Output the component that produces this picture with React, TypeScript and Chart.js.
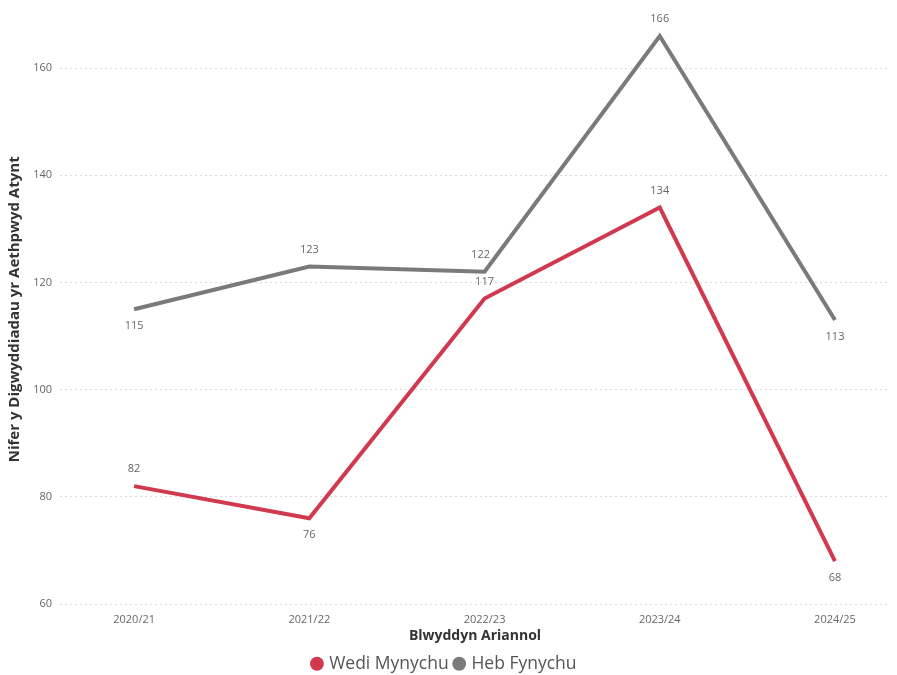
import React, { useEffect, useRef } from "react";
import { Chart, registerables } from "chart.js";
Chart.register(...registerables);

const categories = ["2020/21", "2021/22", "2022/23", "2023/24", "2024/25"];
const wediMynychu = [82, 76, 117, 134, 68];
const hebFynychu = [115, 123, 122, 166, 113];
const yTicks = [60, 80, 100, 120, 140, 160];
// label placement: 1 = above, -1 = below
const wediPos = [1, -1, 1, 1, -1];
const hebPos = [-1, 1, 1, 1, -1];

const FONT = "'Open Sans', 'Noto Sans', sans-serif";

const labelPlugin = {
  id: "pointLabels",
  afterDatasetsDraw(chart: any) {
    const ctx = chart.ctx;
    ctx.save();
    ctx.font = `11px ${FONT}`;
    ctx.fillStyle = "#666666";
    ctx.textAlign = "center";
    ctx.textBaseline = "middle";
    chart.data.datasets.forEach((ds: any, di: number) => {
      const meta = chart.getDatasetMeta(di);
      const pos = di === 0 ? wediPos : hebPos;
      meta.data.forEach((pt: any, i: number) => {
        const v = ds.data[i].y;
        let dx = 0;
        if (di === 1 && i === 2) dx = -4;
        ctx.fillText(String(v), pt.x + dx, pt.y - pos[i] * 17);
      });
    });
    ctx.restore();
  },
};

const legendHeightPlugin = {
  id: "legendHeight",
  beforeLayout(chart: any) {
    const lg = chart.legend;
    if (lg && !lg.__patched) {
      lg.__patched = true;
      const origFit = lg.fit.bind(lg);
      lg.fit = function () {
        origFit();
        this.height = 27;
      };
    }
  },
};

export default function App() {
  const ref = useRef<HTMLCanvasElement>(null);
  useEffect(() => {
    if (!ref.current) return;
    const chart = new Chart(ref.current, {
      type: "line",
      data: {
        datasets: [
          {
            label: "Wedi Mynychu",
            data: wediMynychu.map((y, i) => ({ x: i, y })),
            borderColor: "#D1394E",
            backgroundColor: "#D1394E",
            borderWidth: 4,
            pointRadius: 0,
            tension: 0,
          },
          {
            label: "Heb Fynychu",
            data: hebFynychu.map((y, i) => ({ x: i, y })),
            borderColor: "#7A7A7A",
            backgroundColor: "#7A7A7A",
            borderWidth: 4,
            pointRadius: 0,
            tension: 0,
          },
        ],
      },
      options: {
        animation: false,
        responsive: true,
        maintainAspectRatio: false,
        layout: { padding: { left: 0, right: 7, top: 13, bottom: 0 } },
        plugins: {
          tooltip: { enabled: false },
          legend: {
            position: "bottom",
            labels: {
              usePointStyle: true,
              pointStyle: "circle",
              boxWidth: 7,
              boxHeight: 7,
              padding: 7,
              color: "#555555",
              font: { family: FONT, size: 17.5 },
            },
          },
        },
        scales: {
          x: {
            type: "linear",
            min: -0.423,
            max: 4.314,
            grid: { display: false, drawTicks: false },
            border: { display: false },
            afterBuildTicks: (axis: any) => {
              axis.ticks = categories.map((_, i) => ({ value: i }));
            },
            afterFit: (axis: any) => {
              axis.height = 44;
            },
            ticks: {
              color: "#666666",
              font: { family: FONT, size: 11 },
              padding: 9,
              maxRotation: 0,
              autoSkip: false,
              callback: (v: any) => categories[v] ?? "",
            },
            title: {
              display: true,
              text: "Blwyddyn Ariannol",
              color: "#333333",
              font: { family: FONT, size: 14, weight: "bold" },
              padding: { top: 0, bottom: 4 },
            },
          },
          y: {
            min: 60,
            max: 170,
            afterBuildTicks: (axis: any) => {
              axis.ticks = yTicks.map((v) => ({ value: v }));
            },
            afterFit: (axis: any) => {
              axis.width = 60;
            },
            grid: {
              color: "#D9D9D9",
              lineWidth: 1,
              drawTicks: false,
            },
            border: { display: false, dash: [2, 3] },
            ticks: {
              color: "#666666",
              font: { family: FONT, size: 11 },
              padding: 8,
            },
            title: {
              display: true,
              text: "Nifer y Digwyddiadau yr Aethpwyd Atynt",
              color: "#333333",
              font: { family: FONT, size: 15, weight: "bold" },
              padding: { top: 6, bottom: 0 },
            },
          },
        },
      },
      plugins: [labelPlugin, legendHeightPlugin],
    } as any);
    return () => chart.destroy();
  }, []);
  return (
    <div style={{ position: "fixed", left: 0, top: 0, width: 897, height: 675, background: "#fff" }}>
      <canvas ref={ref} />
    </div>
  );
}
